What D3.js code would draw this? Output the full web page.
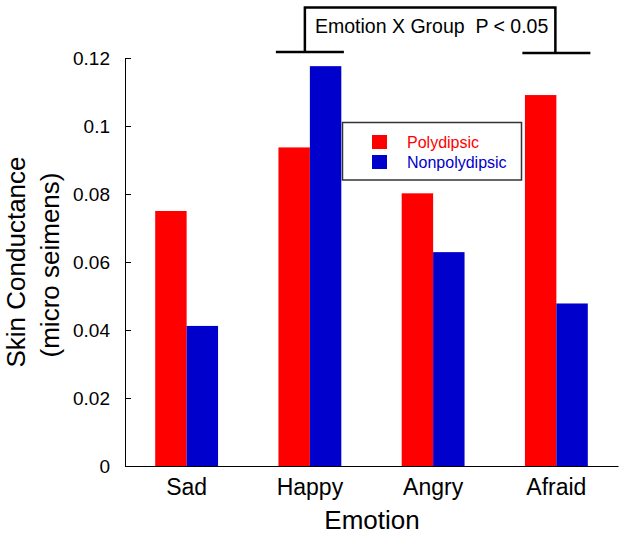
<!DOCTYPE html>
<html>
<head>
<meta charset="utf-8">
<script src="https://cdn.jsdelivr.net/npm/d3@7/dist/d3.min.js"></script>
<style>
  html, body { margin: 0; padding: 0; background: #fff; }
  svg { display: block; font-family: Arial, "Liberation Sans", sans-serif; }
</style>
</head>
<body>
<svg id="chart" width="624" height="536"></svg>
<script>
// ---- data ----
const categories = ["Sad", "Happy", "Angry", "Afraid"];
const seriesNames = ["Polydipsic", "Nonpolydipsic"];
const polydipsic = [0.075, 0.0937, 0.0802, 0.1091];
const nonpolydipsic = [0.0412, 0.1176, 0.0629, 0.0478];
const yTickValues = [0, 0.02, 0.04, 0.06, 0.08, 0.1, 0.12];
const yTickLabels = ["0", "0.02", "0.04", "0.06", "0.08", "0.1", "0.12"];
const seriesColors = ["#ff0000", "#0000cc"];
const annotationText = "Emotion X Group  P < 0.05";

const svg = d3.select("#chart");
const x0 = 125, x1 = 618, yBottom = 466, yTop = 58;

const x = d3.scaleBand().domain(categories).range([x0, x1])
  .paddingInner(0.49).paddingOuter(0.245);
const xs = d3.scaleBand().domain(seriesNames).range([0, x.bandwidth()]);
const y = d3.scaleLinear().domain([0, 0.12]).range([yBottom, yTop]);
const color = d3.scaleOrdinal().domain(seriesNames).range(seriesColors);

const rows = categories.map((c, i) => ({cat: c, vals: [
  {s: seriesNames[0], v: polydipsic[i]},
  {s: seriesNames[1], v: nonpolydipsic[i]}
]}));

// bars
const g = svg.append("g").selectAll("g").data(rows).join("g")
  .attr("transform", d => `translate(${x(d.cat)},0)`);
g.selectAll("rect").data(d => d.vals).join("rect")
  .attr("x", d => xs(d.s))
  .attr("width", xs.bandwidth())
  .attr("y", d => y(d.v))
  .attr("height", d => y(0) - y(d.v))
  .attr("fill", d => color(d.s));

// y axis
const yAxis = d3.axisLeft(y).tickValues(yTickValues)
  .tickFormat((d, i) => yTickLabels[i])
  .tickSizeInner(-6).tickSizeOuter(0).tickPadding(15);
const ya = svg.append("g").attr("transform", `translate(${x0},0)`).call(yAxis);
ya.select(".domain").attr("stroke", "#000");
ya.selectAll(".tick line").attr("stroke", "#000");
ya.selectAll(".tick text").attr("font-size", 19).attr("fill", "#000")
  .attr("font-family", "Arial, 'Liberation Sans', sans-serif");

// x axis
const xAxis = d3.axisBottom(x).tickSize(0).tickPadding(13);
const xa = svg.append("g").attr("transform", `translate(0,${yBottom})`).call(xAxis);
xa.select(".domain").attr("stroke", "#000");
xa.selectAll(".tick text").attr("font-size", 23).attr("fill", "#000")
  .attr("font-family", "Arial, 'Liberation Sans', sans-serif");

// axis titles
svg.append("text").attr("x", 372).attr("y", 529).attr("text-anchor", "middle")
  .attr("font-size", 26).text("Emotion");
svg.append("text").attr("transform", "translate(25,262) rotate(-90)")
  .attr("text-anchor", "middle").attr("font-size", 26).text("Skin Conductance");
svg.append("text").attr("transform", "translate(59,265) rotate(-90)")
  .attr("text-anchor", "middle").attr("font-size", 26).text("(micro seimens)");

// legend
const lg = svg.append("g");
lg.append("rect").attr("x", 342.5).attr("y", 122.5).attr("width", 179).attr("height", 57.5)
  .attr("fill", "#fff").attr("stroke", "#333").attr("stroke-width", 1.5);
seriesNames.forEach((s, i) => {
  lg.append("rect").attr("x", 372).attr("y", 135 + i * 20).attr("width", 15).attr("height", 14)
    .attr("fill", color(s));
  lg.append("text").attr("x", 407).attr("y", 147.5 + i * 20).attr("font-size", 16)
    .attr("fill", color(s)).text(s);
});

// significance bracket
const br = svg.append("g").attr("fill", "none").attr("stroke", "#000").attr("stroke-width", 2.5);
const hx = x("Happy") + x.bandwidth() / 2, ax = x("Afraid") + x.bandwidth() / 2;
const bw = 34;
br.append("path").attr("d",
  `M${hx - bw},52 H${hx + bw} M${hx - 5},52 V7.5 H${ax - 1} V53 M${ax - bw},53 H${ax + bw}`);
svg.append("text").attr("x", 315).attr("y", 33).attr("font-size", 19.5)
  .style("white-space", "pre").text(annotationText);
</script>
</body>
</html>
